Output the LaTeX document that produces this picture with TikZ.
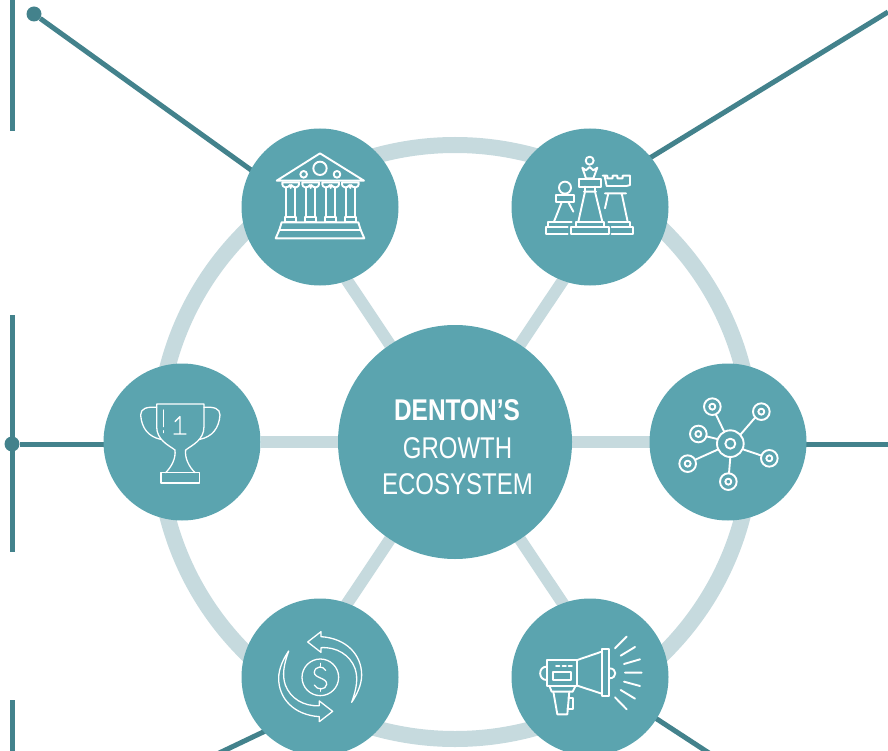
\documentclass[tikz,border=0pt]{standalone}
\usepackage{fontspec}
\setmainfont{Liberation Sans}
\newfontfamily\capsfont[FakeStretch=0.80]{Liberation Sans}
\newfontfamily\capsboldfont[FakeStretch=0.815]{Liberation Sans}
\usetikzlibrary{backgrounds}
\definecolor{teal}{HTML}{5BA4AF}
\definecolor{darkteal}{HTML}{43828C}
\definecolor{palering}{HTML}{C6DADE}
\tikzset{
  petal/.style={circle,fill=teal,minimum size=157pt,inner sep=0pt,outer sep=0pt},
  hubnode/.style={circle,fill=teal,minimum size=234pt,inner sep=0pt,outer sep=0pt,align=center,text=white},
  spoke/.style={draw=palering,line width=12pt},
  leader/.style={draw=darkteal,line width=5pt},
  dot/.style={circle,fill=darkteal,minimum size=15pt,inner sep=0pt},
  icon/.style={draw=white,line width=1.9pt,line join=round,line cap=round},
  thinicon/.style={draw=white,line width=1.3pt,line join=round,line cap=round},
  hubtext/.style={text=white,anchor=base,inner sep=0pt},
  zoomed/.style={shift={#1},x=0.3333pt,y=-0.3333pt},
}
\begin{document}
\begin{tikzpicture}[x=1pt,y=-1pt]
\useasboundingbox (0,0) rectangle (888,751);
\clip (0,0) rectangle (888,751);
% nodes
\node[hubnode] (hub) at (455,442) {};
\node[petal] (tl) at (320,207) {};
\node[petal] (tr) at (590,207) {};
\node[petal] (ml) at (182,442) {};
\node[petal] (mr) at (728,442) {};
\node[petal] (bl) at (320,677) {};
\node[petal] (br) at (590,677) {};
\node[hubtext,font=\capsboldfont\fontsize{30pt}{30pt}\selectfont\bfseries] (t1) at (457,420) {DENTON’S};
\node[hubtext,font=\capsfont\fontsize{30pt}{30pt}\selectfont] (t2) at (457.5,458) {GROWTH};
\node[hubtext,font=\capsfont\fontsize{30pt}{30pt}\selectfont] (t3) at (457.5,494) {ECOSYSTEM};
\node[dot] (dot1) at (34,14) {};
\node[dot] (dot2) at (12,444) {};
\coordinate (a1) at (12,0); \coordinate (a2) at (12,131);
\coordinate (b1) at (12,315); \coordinate (b2) at (12,552);
\coordinate (c1) at (12,700); \coordinate (c2) at (12,751);
\coordinate (d1) at (888,12); \coordinate (d2) at (640,164);
\coordinate (e1) at (888,444); \coordinate (e2) at (790,444);
\coordinate (f1) at (215,755); \coordinate (f2) at (280,724);
\coordinate (g1) at (712,755); \coordinate (g2) at (640,708);
\coordinate (h2) at (265,180);
\coordinate (i2) at (120,444);
\coordinate (tlaim) at (298,207);
\coordinate (traim) at (612,207);
\coordinate (blaim) at (298,677);
\coordinate (braim) at (612,677);
\begin{scope}[on background layer]
  \draw[draw=palering,line width=16pt] (hub.center) circle (297pt);
  \foreach \n in {tlaim,traim,ml,mr,blaim,braim} \draw[spoke] (hub) -- (\n);
  \draw[leader] (a1) -- (a2);
  \draw[leader] (b1) -- (b2);
  \draw[leader] (c1) -- (c2);
  \draw[leader] (d1) -- (d2);
  \draw[leader] (e1) -- (e2);
  \draw[leader] (f1) -- (f2);
  \draw[leader] (g1) -- (g2);
  \draw[leader] (dot1) -- (h2);
  \draw[leader] (dot2) -- (i2);
\end{scope}
% temple
\begin{scope}[zoomed={(240,125)}]
  \draw[icon] (110,167) -- (240,85) -- (372,167) -- cycle;
  \draw[icon] (240,130) circle[radius=20];
  \draw[icon] (191,148) circle[radius=10];
  \draw[icon] (291,148) circle[radius=10];
  \foreach \c in {152,212,272,331}{
    \draw[icon] (\c-25,172) -- (\c+25,172) .. controls (\c+27,192) and (\c+8,190) .. (\c+2,180)
      (\c-25,172) .. controls (\c-27,192) and (\c-8,190) .. (\c-2,180) (\c-2,180) -- (\c,189) -- (\c+2,180);
    \draw[icon] (\c-13,187) -- (\c-13,275) (\c+13,187) -- (\c+13,275);
    \draw[icon] (\c-17,275) rectangle (\c+17,292);
  }
  \draw[icon] (125,292) -- (355,292) -- (362,315) -- (118,315) -- cycle;
  \draw[icon] (118,315) -- (362,315) -- (373,340) -- (107,340) -- cycle;
\end{scope}
% chess
\begin{scope}[zoomed={(510,125)}]
  \draw[icon] (165,188) circle[radius=18];
  \draw[icon] (137,210) rectangle (192,232);
  \draw[icon] (155,232) -- (132,290) (175,232) -- (190,260);
  \draw[icon] (185,290) -- (115,290) -- (115,305);
  \draw[icon] (173,305) -- (108,305) -- (108,328) -- (173,328);
  \draw[icon] (239,107) circle[radius=12];
  \draw[icon] (217,128) -- (228,136) -- (239,126) -- (250,136) -- (262,128) -- (250,160) -- (228,160) -- cycle;
  \draw[icon] (208,162) rectangle (272,185);
  \draw[icon] (225,185) -- (225,200) -- (205,290) (255,185) -- (255,200) -- (277,290) (222,200) -- (258,200);
  \draw[icon] (197,305) -- (197,290) -- (283,290) -- (283,305);
  \draw[icon] (183,305) rectangle (297,328);
  \draw[icon] (278,152) -- (292,152) -- (292,160) -- (308,160) -- (308,152) -- (322,152) -- (322,160) -- (338,160) -- (338,152) -- (360,152) -- (360,180) -- (350,183) -- (290,183) -- (284,154);
  \draw[icon] (285,205) -- (348,205) (295,205) -- (285,250) (335,205) -- (353,290);
  \draw[icon] (295,290) -- (360,290) -- (360,305) -- (305,305);
  \draw[icon] (360,305) -- (370,305) -- (370,328) -- (305,328);
\end{scope}
% trophy
\begin{scope}[zoomed={(100,360)}]
  \draw[thinicon] (197,338) .. controls (215,320) and (228,295) .. (225,270) .. controls (205,255) and (170,240) .. (170,200) -- (170,132) -- (312,132) -- (312,200) .. controls (312,240) and (277,255) .. (257,270) .. controls (254,295) and (267,320) .. (285,338);
  \draw[thinicon] (183,338) rectangle (298,369);
  \draw[thinicon] (170,142) .. controls (140,140) and (122,145) .. (122,165) .. controls (125,205) and (145,230) .. (182,238);
  \draw[thinicon] (312,142) .. controls (342,140) and (360,145) .. (360,165) .. controls (357,205) and (337,230) .. (300,238);
  \draw[thinicon] (190,150) -- (190,200) (190,212) -- (190,218);
  \draw[thinicon] (225,185) -- (240,170) -- (240,222) (222,222) -- (258,222);
\end{scope}
% network
\begin{scope}[zoomed={(650,360)}]
  \draw[icon] (241,251) circle[radius=40];
  \draw[icon] (241,251) circle[radius=15];
  \foreach \x/\y in {187/140,334/155,145/222,113/311,358/295,235/365}{
    \draw[icon] (\x,\y) circle[radius=25];
    \draw[icon] (\x,\y) circle[radius=9];
  }
  \draw[icon] (198,164) -- (222,214);
  \draw[icon] (316,172) -- (272,223);
  \draw[icon] (169,229) -- (202,237);
  \draw[icon] (136,299) -- (205,268);
  \draw[icon] (335,287) -- (279,268);
  \draw[icon] (237,340) -- (241,291);
\end{scope}
% money
\begin{scope}[zoomed={(240,595)}]
  \draw[thinicon] (241,247) circle[radius=55];
  \draw[thinicon] (257,226) .. controls (250,212) and (225,212) .. (223,232) .. controls (222,250) and (262,248) .. (260,268) .. controls (258,286) and (230,286) .. (223,270);
  \draw[thinicon] (241,205) -- (241,214) (241,280) -- (241,289);
  \foreach \r in {0,180}{
    \begin{scope}[rotate around={\r:(240.5,245)}]
      \draw[thinicon] (203,141) -- (243,110) -- (243,125) .. controls (320,130) and (365,180) .. (365,240) .. controls (365,270) and (350,300) .. (335,322) .. controls (350,280) and (355,250) .. (345,220) .. controls (330,180) and (290,155) .. (243,158) -- (243,172) -- cycle;
    \end{scope}
  }
\end{scope}
% megaphone
\begin{scope}[zoomed={(510,595)}]
  \draw[icon] (275,162) rectangle (298,304);
  \draw[icon] (275,170) -- (202,195) (275,296) -- (202,272);
  \draw[icon] (110,195) rectangle (202,272);
  \draw[icon] (128,232) rectangle (184,256);
  \draw[icon] (138,214) -- (148,214) (158,214) -- (168,214) (176,214) -- (186,214);
  \draw[icon] (110,215) .. controls (84,215) and (84,255) .. (110,255);
  \draw[icon] (298,220) .. controls (322,220) and (322,250) .. (298,250);
  \draw[icon] (118,272) -- (125,290) -- (188,290) -- (197,272);
  \draw[icon] (130,290) -- (142,358) -- (172,358) -- (178,290);
  \draw[icon] (175,308) -- (188,308) -- (188,342) -- (172,342);
  \draw[icon] (315,160) -- (350,125) (332,182) -- (375,156) (342,207) -- (390,193) (345,233) -- (395,233) (342,260) -- (390,273) (332,285) -- (375,311) (315,307) -- (350,343);
\end{scope}
\end{tikzpicture}
\end{document}
